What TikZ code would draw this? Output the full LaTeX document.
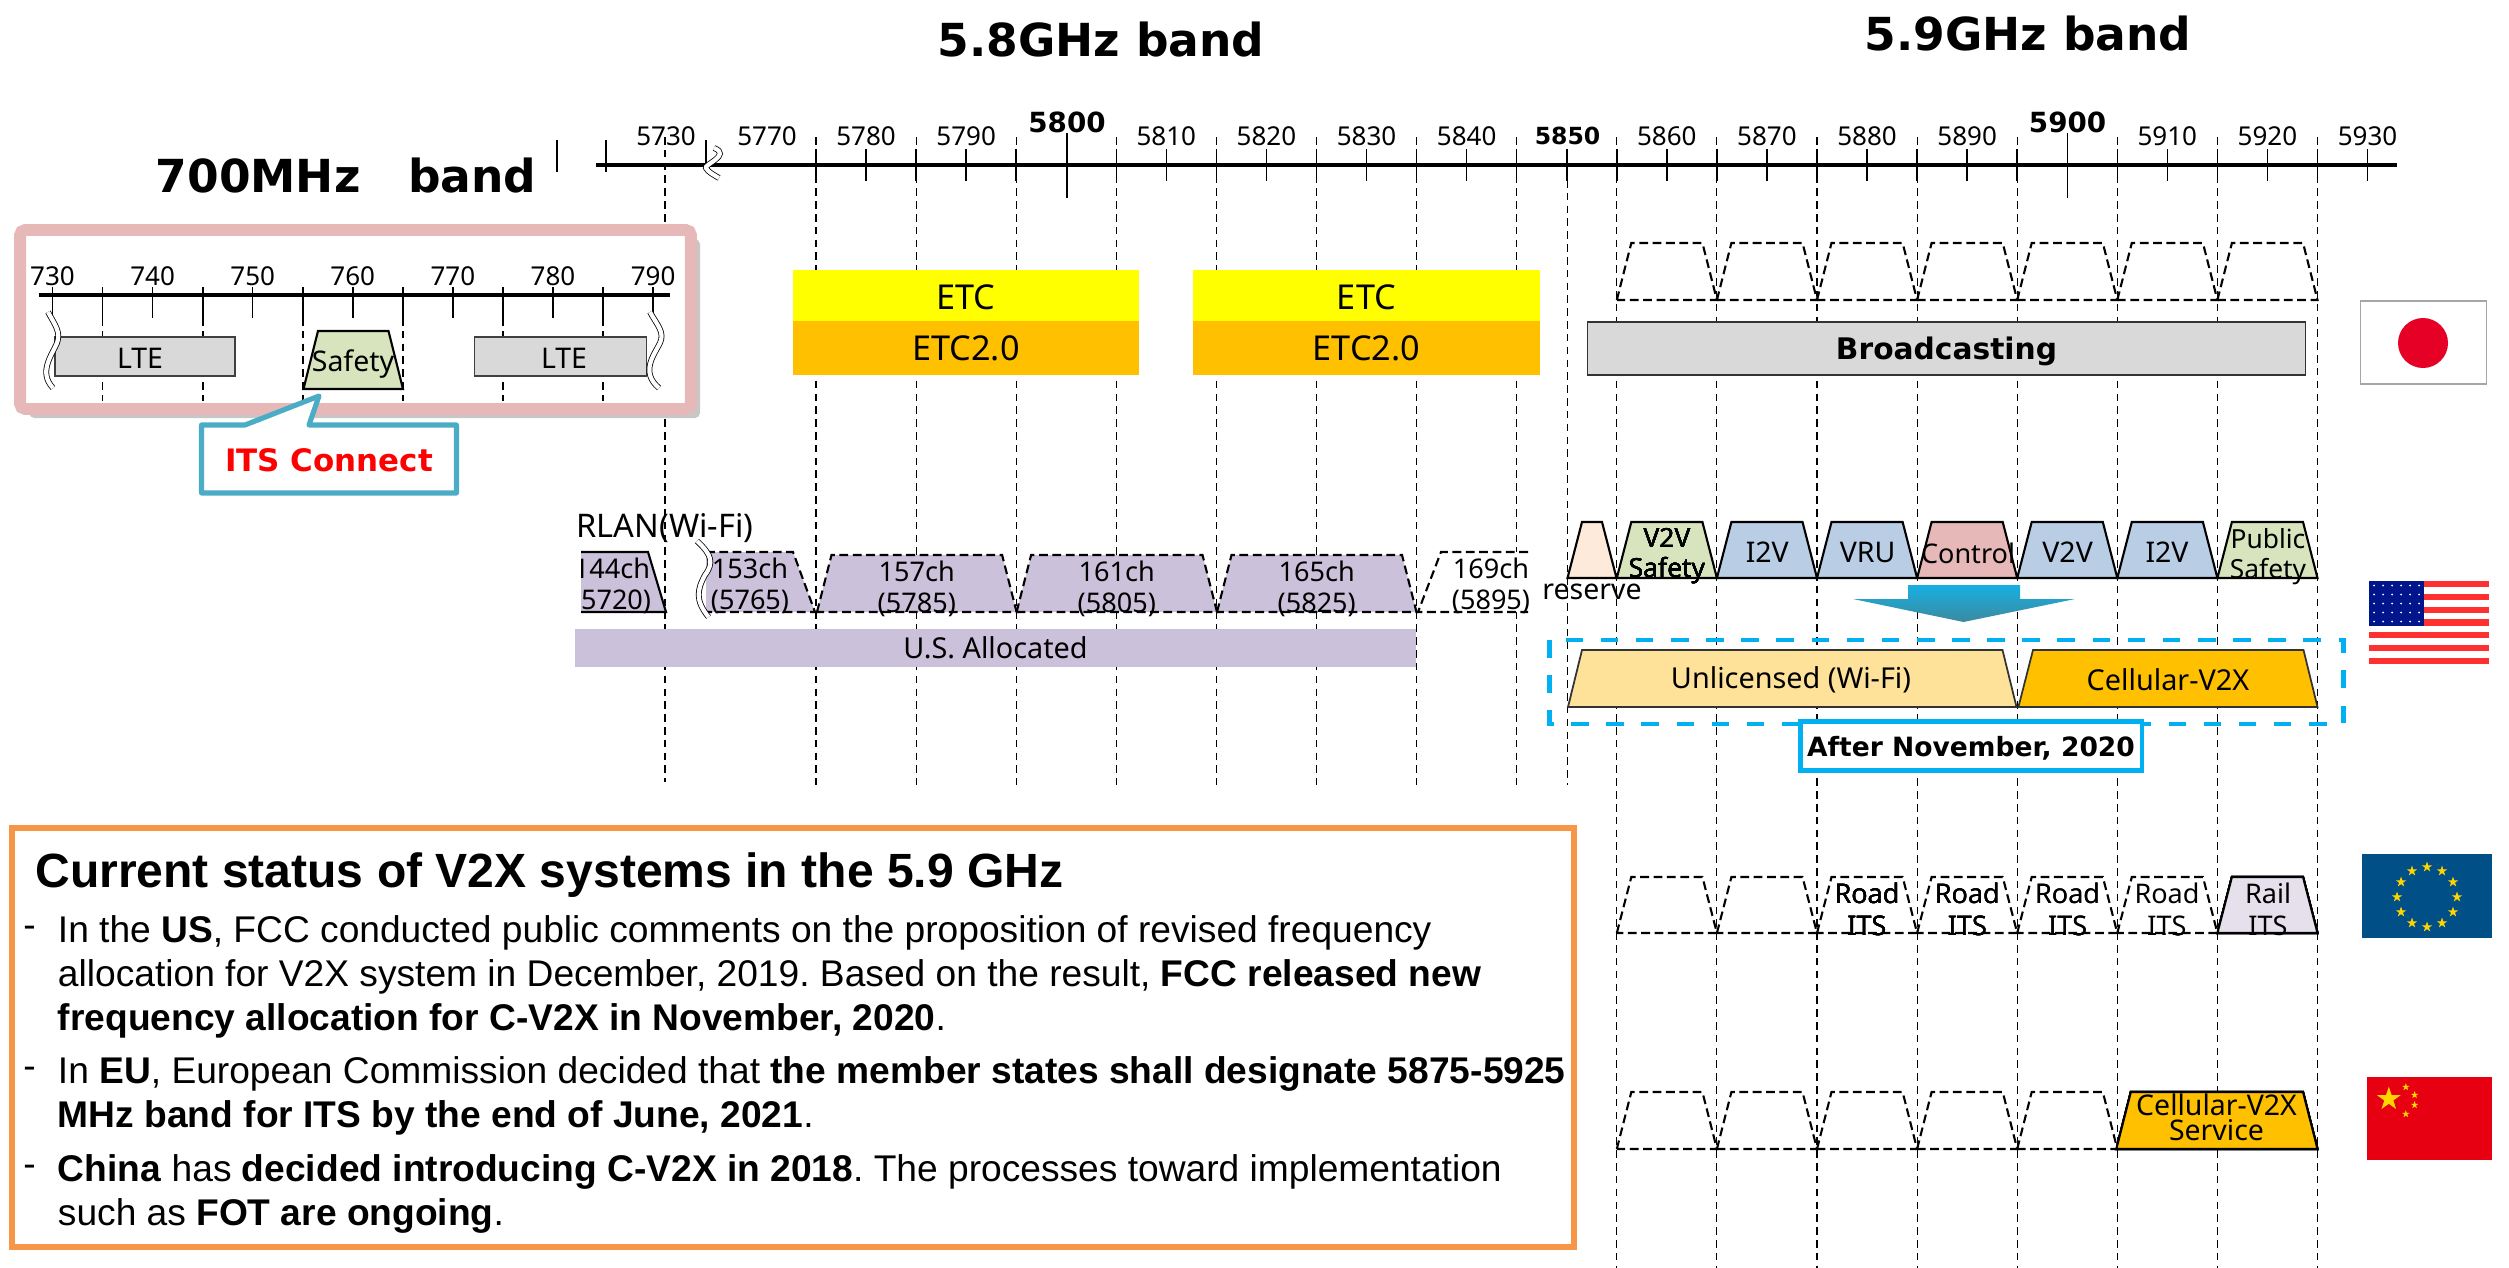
\documentclass[tikz,border=0pt]{standalone}
\usepackage{fontspec}
\setmainfont{Liberation Sans}
\newfontfamily\lblfont{Noto Sans}
\newfontfamily\headfont{DejaVu Sans}
\usepackage{tikz}
\usetikzlibrary{positioning,shapes.geometric,calc,shadows}
\definecolor{wlanfill}{HTML}{CCC1DA}
\definecolor{greenfill}{HTML}{D7E4BD}
\definecolor{bluefill}{HTML}{B9CDE5}
\definecolor{pinkfill}{HTML}{E6B9B8}
\definecolor{peachfill}{HTML}{FDEADA}
\definecolor{railfill}{HTML}{E6E0EC}
\definecolor{wififill}{HTML}{FEE299}
\definecolor{amberfill}{HTML}{FFC000}
\definecolor{etcfill}{HTML}{FFFF00}
\definecolor{greyfill}{HTML}{D9D9D9}
\definecolor{skyline}{HTML}{00B0F0}
\definecolor{tealline}{HTML}{4BACC6}
\definecolor{orangeline}{HTML}{F79646}
\definecolor{itsred}{HTML}{FF0000}
\definecolor{jpred}{HTML}{E60026}
\definecolor{usred}{HTML}{FF3030}
\definecolor{usblue}{HTML}{00148C}
\definecolor{eublue}{HTML}{004F87}
\definecolor{eugold}{HTML}{FFD500}
\definecolor{cnred}{HTML}{E60012}
\newcommand{\chanshape}[5][]{\draw[#1] (#2,#5) -- (#2+14.5,#4) -- (#3-14.5,#4) -- (#3,#5) -- cycle;}

\begin{document}
\begin{tikzpicture}[
    x=0.02cm, y=-0.02cm,
    axisline/.style={line width=2.6pt},
    tickline/.style={line width=0.85pt},
    guide/.style={line width=0.65pt, dash pattern=on 4.3pt off 3pt},
    chanoff/.style={line width=1.2pt, dash pattern=on 5pt off 2.6pt, fill=white},
    chanon/.style={line width=1.2pt, fill=#1},
    wave/.style={line width=0.45pt, double=white, double distance=2.4pt},
    ticklbl/.style={font=\lblfont\fontsize{14.8}{16}\selectfont, inner sep=0pt},
    bandlbl/.style={font=\headfont\bfseries\fontsize{25.9}{28}\selectfont, inner sep=0pt},
    chanlbl/.style={font=\lblfont\fontsize{15.4}{17.3}\selectfont, inner sep=0pt, align=center},
    blocklbl/.style={font=\lblfont\fontsize{16.4}{18}\selectfont, inner sep=0pt},
    block/.style={fill=#1, inner sep=0pt, font=\lblfont\fontsize{19.5}{21}\selectfont},
    itslbl/.style={font=\lblfont\fontsize{16.2}{17}\selectfont, inner sep=0pt, align=center},
    para/.style={font=\frenchspacing\fontsize{21.15}{25}\selectfont, inner sep=0pt, align=left, anchor=west},
    flagstar/.style={star, star points=5, star point ratio=2.618, fill=#1, draw=none, inner sep=0pt},
]
\useasboundingbox (0,0) rectangle (2509,1268);

% ===== GUIDES =====
\draw[guide] (665,137) -- (665,782);
\foreach \f in {5775,5785,...,5845}
    \draw[guide] ({816+(\f-5775)*10.01},137) -- ++(0,648);
\draw[guide] (1567.5,180) -- (1567.5,785);
\foreach \f in {5855,5865,...,5925}
    \draw[guide] ({816+(\f-5775)*10.01},137) -- ++(0,1131);

% ===== 5.8/5.9 SCALE =====
\node[bandlbl] (band58) at (1101,40) {5.8GHz band};
\node[bandlbl] (band59) at (2028,34) {5.9GHz band};
\node[bandlbl] (band700) at (346,176) {700MHz\ \ \ band};
\draw[axisline] (596,165) -- (2397,165);
\draw[tickline] (557,140) -- (557,172);
\draw[tickline] (606,140) -- (606,172);
\draw[tickline] (706,140) -- (706,172);
\draw[wave] (714,148) .. controls (732,155) and (703,165) .. (706,168) .. controls (708,172) and (714,175) .. (719,178);
\node[ticklbl] (lbl5730) at (666,136) {5730};
\node[ticklbl] (lbl5770) at (767,136) {5770};
\foreach \f in {5775,5780,...,5930}
    \draw[tickline] ({816+(\f-5775)*10.01},149) -- ++(0,32);
\draw[tickline] (1067,133) -- (1067,198);
\draw[tickline] (2067.6,133) -- (2067.6,198);
\foreach \f in {5780,5790,5810,5820,5830,5840,5860,5870,5880,5890,5910,5920,5930}
    \node[ticklbl] (lbl\f) at ({816+(\f-5775)*10.01},136) {\f};
\node[ticklbl, font=\headfont\bfseries\fontsize{13.4}{15}\selectfont] (lbl5850) at (1567.5,136) {5850};
\node[ticklbl, font=\headfont\bfseries\fontsize{15.8}{17}\selectfont] (lbl5800) at (1067,122) {5800};
\node[ticklbl, font=\headfont\bfseries\fontsize{15.8}{17}\selectfont] (lbl5900) at (2067.6,122) {5900};

% ===== 700MHz BOX =====
\node[draw=pinkfill, fill=white, line width=6.8pt, rounded corners=3pt, minimum width=13.42cm, minimum height=3.58cm,
      drop shadow={shadow xshift=5.2pt, shadow yshift=-5.2pt, fill=black, opacity=0.22}] (box700) at (355.5,319.5) {};
\draw[axisline] (39,295) -- (670,295);
\foreach \i/\f in {0/730,1/740,2/750,3/760,4/770,5/780,6/790} {
    \draw[tickline] ({52.5+\i*100.1},287) -- ++(0,31);
    \node[ticklbl] (lbl\f) at ({52.5+\i*100.1},276) {\f};
}
\foreach \x in {102.5,203,303,403,503,603} {
    \draw[tickline] (\x,287) -- (\x,318);
    \draw[guide] (\x,318) -- (\x,401);
}
\node[draw=black!75, line width=0.85pt, fill=greyfill, minimum width=3.6cm, minimum height=0.78cm, inner sep=0pt] (lte1) at (145,356.5) {};
\node[itslbl] (lte1lbl) at (140,358) {LTE};
\node[draw=black!75, line width=0.85pt, fill=greyfill, minimum width=3.45cm, minimum height=0.78cm, inner sep=0pt] (lte2) at (560.5,356.5) {};
\node[itslbl] (lte2lbl) at (564,358) {LTE};
\draw[wave] (48,312) .. controls (55,325) and (61,332) .. (57,343) .. controls (52,355) and (38,372) .. (53,388);
\draw[wave] (650,312) .. controls (657,325) and (665,332) .. (660,343) .. controls (654,355) and (640,372) .. (659,388);
\chanshape[chanon=greenfill]{303.5}{403}{331}{389}
\node[itslbl] (safety700) at (353,364) {Safety};
\draw[tealline, line width=2.9pt, fill=white, line join=round] (201.5,425) -- (245,425) -- (319,396) -- (309,425) -- (456.5,425) -- (456.5,493) -- (201.5,493) -- cycle;
\node[bandlbl, text=itsred, font=\headfont\bfseries\fontsize{17.6}{18}\selectfont] (itsconnect) at (329,460) {ITS Connect};

% ===== JAPAN =====
\foreach \i in {0,...,6}
    \chanshape[chanoff]{1616.8+\i*100.1}{1616.8+\i*100.1+100.1}{243}{300}
\node[block=etcfill, minimum width=6.94cm, minimum height=1.02cm, text depth=0pt, text height=16pt] (etc1) at (966,295.5) {ETC};
\node[block=amberfill, minimum width=6.94cm, minimum height=1.08cm] (etctwo1) at (966,348) {ETC2.0};
\node[block=etcfill, minimum width=6.94cm, minimum height=1.02cm, text depth=0pt, text height=16pt] (etc2) at (1366.5,295.5) {ETC};
\node[block=amberfill, minimum width=6.94cm, minimum height=1.08cm] (etctwo2) at (1366.5,348) {ETC2.0};
\node[draw=black!80, line width=0.95pt, fill=greyfill, minimum width=14.36cm, minimum height=1.06cm, inner sep=0pt, text depth=0pt,
      font=\headfont\bfseries\fontsize{16.9}{18}\selectfont] (broadcast) at (1946.5,348.5) {Broadcasting};
\draw[black!35, line width=0.6pt, fill=white] (2360.5,301) rectangle (2486,384);
\fill[jpred] (2423,343) circle (25);

% ===== US =====
\node[itslbl, font=\lblfont\fontsize{18.5}{20}\selectfont] (rlan) at (665,528) {RLAN(Wi-Fi)};
\fill[wlanfill] (581,552) -- (648,552) -- (666,612) -- (581,612) -- cycle;
\draw[line width=1.2pt] (581,552) -- (648,552) -- (666,612) -- (581,612);
\begin{scope}
\clip (581,540) rectangle (700,625);
\node[chanlbl] (ch144) at (612,586) {144ch\\(5720)};
\end{scope}
\fill[wlanfill] (706,552) -- (793,552) -- (815,612) -- (706,612) -- cycle;
\draw[line width=1.2pt, dash pattern=on 5pt off 2.6pt] (706,552) -- (793,552) -- (815,612) -- (706,612);
\node[chanlbl] (ch153) at (750,586) {153ch\\(5765)};
\draw[wave] (697,541) .. controls (712,555) and (714,563) .. (705,575) .. controls (697,590) and (695,600) .. (708.5,617);
\foreach \xa/\xb/\n/\fr in {817/1016.6/157/5785,1016.6/1217/161/5805,1217/1416.5/165/5825} {
    \chanshape[chanoff, fill=wlanfill]{\xa}{\xb}{555}{612}
    \node[chanlbl] (ch\n) at ({(\xa+\xb)/2},589) {\n ch\\(\fr)};
}
\fill[white] (1418,552) -- (1441,552) -- (1528,552) -- (1528,612) -- (1418,612) -- cycle;
\draw[line width=1.2pt, dash pattern=on 5pt off 2.6pt] (1528,552) -- (1441,552) -- (1418,612) -- (1528,612);
\begin{scope}
\clip (1420,540) rectangle (1529,625);
\node[chanlbl] (ch169) at (1491,586) {169ch\\(5895)};
\end{scope}
\node[block=wlanfill, minimum width=16.82cm, minimum height=0.75cm, font=\lblfont\fontsize{16.4}{17}\selectfont] (usalloc) at (995.5,648) {U.S. Allocated};

\chanshape[line width=1.2pt, fill=peachfill]{1567.5}{1616.5}{522}{578}
\node[itslbl] (reserve) at (1592,592) {reserve};
\foreach \i/\col in {0/greenfill,1/bluefill,2/bluefill,3/pinkfill,4/bluefill,5/bluefill,6/greenfill}
    \chanshape[chanon=\col]{1616.8+\i*100.1}{1616.8+\i*100.1+100.1}{522}{578}
\node[chanlbl, font=\lblfont\fontsize{15}{17}\selectfont] (v2vsafe) at (1667,556.5) {V2V\\Safety};
\node[itslbl] (us2) at (1767.3,552) {I2V};
\node[itslbl] (us3) at (1867.6,552) {VRU};
\node[itslbl, font=\lblfont\fontsize{15.4}{16}\selectfont] (us4) at (1968,553) {Control};
\node[itslbl] (us5) at (2067.6,552) {V2V};
\node[itslbl] (us6) at (2167,552) {I2V};
\node[chanlbl, font=\lblfont\fontsize{15}{17}\selectfont] (pubsafe) at (2268,556.5) {Public\\Safety};

\path[top color=skyline!70!tealline, bottom color=tealline!80!black] (1908,585) -- (2020,585) -- (2020,599) -- (2075,599) -- (1963.5,622) -- (1853,599) -- (1908,599) -- cycle;

\draw[skyline, line width=2.6pt, dash pattern=on 10pt off 10pt] (1549.7,640) rectangle (2343.3,724);
\draw[line width=1pt, black!80, fill=wififill] (1568,707) -- (1582,650) -- (2002.5,650) -- (2016.5,707) -- cycle;
\draw[line width=1pt, black!80, fill=amberfill] (2018.4,707) -- (2033,650) -- (2303.5,650) -- (2317.5,707) -- cycle;
\node[blocklbl] (unlic) at (1791,680) {Unlicensed (Wi-Fi)};
\node[blocklbl] (cv2x) at (2168,680) {Cellular-V2X};
\node[draw=skyline, line width=2.8pt, fill=white, minimum width=6.84cm, minimum height=0.98cm, inner sep=0pt, text depth=0pt,
      font=\headfont\bfseries\fontsize{15.1}{16}\selectfont] (after) at (1971,746) {After November, 2020};

\fill[white] (2369.2,581) rectangle (2488.5,664);
\foreach \i in {0,2,...,12}
    \fill[usred] (2369.2,{581+\i*6.385}) rectangle (2488.5,{581+\i*6.385+6.385});
\fill[usblue] (2369.2,581) rectangle (2424,626);
\foreach \r in {0,...,4}
    \foreach \c in {0,...,5}
        \fill[white] ({2374+\c*9},{585.5+\r*9}) circle (1);

% ===== EU =====
\foreach \i in {0,...,5}
    \chanshape[chanoff]{1616.8+\i*100.1}{1616.8+\i*100.1+100.1}{877}{933}
\chanshape[chanon=railfill]{2217.4}{2317.5}{877}{933}
\foreach \x/\n in {1867/a,1967.3/b,2067.6/c,2167/d}
    \node[chanlbl, font=\lblfont\fontsize{15.4}{18.2}\selectfont] (road\n) at (\x,909) {Road\\ITS};
\node[chanlbl, font=\lblfont\fontsize{15.4}{18.2}\selectfont] (rail) at (2268,909) {Rail\\ITS};
\fill[eublue] (2362.3,854) rectangle (2492,938);
\foreach \a in {0,30,...,330}
    \node[flagstar=eugold, minimum size=0.22cm] (eustar\a) at ($(2427,897)+(\a:30)$) {};

% ===== CHINA =====
\foreach \i in {0,...,4}
    \chanshape[chanoff]{1616.8+\i*100.1}{1616.8+\i*100.1+100.1}{1092}{1149}
\chanshape[chanon=amberfill]{2116.3}{2317.5}{1092}{1149}
\node[chanlbl, font=\lblfont\fontsize{16.2}{13.9}\selectfont] (cv2xserv) at (2216.5,1117.5) {Cellular-V2X\\Service};
\fill[cnred] (2367.3,1077) rectangle (2492.2,1160);
\node[flagstar=eugold, minimum size=0.5cm] (cnstar) at (2388.8,1099) {};
\foreach \x/\y/\n in {2405.8/1087/a,2414.6/1095/b,2414.6/1105/c,2405.8/1114/d}
    \node[flagstar=eugold, minimum size=0.16cm] (cnstar\n) at (\x,\y) {};

% ===== STATUS TEXT =====
\draw[orangeline, line width=2.9pt] (12,828) rectangle (1574,1247);
\node[para, font=\bfseries\fontsize{27.35}{28}\selectfont] (heading) at (35,875) {Current status of V2X systems in the 5.9 GHz};
\node[para] (dashus) at (23,932) {-};
\node[para] (textus) at (57.6,977) {In the \textbf{US}, FCC conducted public comments on the proposition of revised frequency\\
allocation for V2X system in December, 2019. Based on the result, \textbf{FCC released new}\\
\textbf{frequency allocation for C-V2X in November, 2020}.};
\node[para] (dasheu) at (23,1073) {-};
\node[para] (texteu) at (57.6,1095.5) {In \textbf{EU}, European Commission decided that \textbf{the member states shall designate 5875-5925}\\
\textbf{MHz band for ITS by the end of June, 2021}.};
\node[para] (dashcn) at (23,1171) {-};
\node[para] (textcn) at (57.6,1194) {\textbf{China} has \textbf{decided introducing C-V2X in 2018}. The processes toward implementation\\
such as \textbf{FOT are ongoing}.};
\end{tikzpicture}
\end{document}
